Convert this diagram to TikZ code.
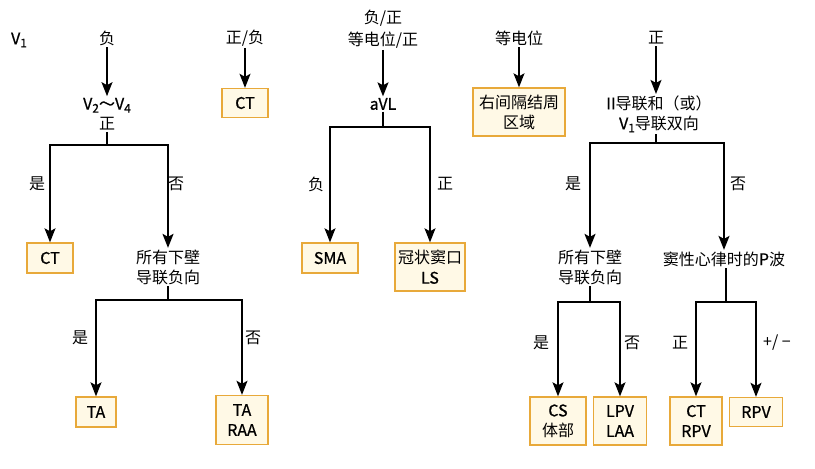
\documentclass[tikz,border=0pt]{standalone}
\usepackage{fontspec}
\setmainfont{Noto Sans CJK SC}
\newfontfamily\latf{Noto Sans CJK SC}[FakeBold=0.7]
\usetikzlibrary{arrows.meta}
\definecolor{boxc}{HTML}{E8A93A}
\definecolor{boxf}{HTML}{FFF9E6}
\newcommand\myfs{\fontsize{16}{20}\selectfont}
\newcommand\mysub[1]{\raisebox{-0.35ex}{\fontsize{12}{12}\selectfont #1}}
\newcommand\lt[1]{{\latf #1}}
\begin{document}
\begin{tikzpicture}[x=1pt,y=-1pt,
  txt/.style={inner sep=1.5pt, align=center, font=\myfs},
  box/.style={draw=boxc, fill=boxf, line width=1.4pt, inner sep=0pt, align=center, font=\myfs},
  arr/.style={line width=1.6pt, -{Stealth[length=14pt,width=11pt,inset=3pt]}},
  ln/.style={line width=1.6pt},
  lab/.style={inner sep=0pt, font=\myfs}]
\useasboundingbox (0,0) rectangle (815,469);

% column 1
\node[lab] (v1) at (19,40) {\lt{V\mysub{1}}};
\node[txt] (n1) at (107,38) {负};
\node[txt] (n2) at (107,114) {\lt{V\mysub{2}～V\mysub{4}}\\正};
\draw[arr] (n1.south) -- (n2.north -| n1.south);
\coordinate (j1) at (107,145);
\draw[ln] (n2.south) -- (j1);
\node[box, minimum width=46pt, minimum height=30pt] (ct1) at (50,258) {\lt{CT}};
\node[txt] (n3) at (168,267) {所有下壁\\导联负向};
\draw[arr] (j1) -| (ct1);
\draw[arr] (j1) -| (n3);
\node[lab] (l1) at (37,184) {是};
\node[lab] (l2) at (176,184) {否};
\coordinate (j2) at (168,300);
\draw[ln] (n3.south) -- (j2);
\node[box, minimum width=40pt, minimum height=30pt] (ta1) at (96,412) {\lt{TA}};
\node[box, minimum width=52pt, minimum height=49pt] (ta2) at (242,420) {\lt{TA}\\\lt{RAA}};
\draw[arr] (j2) -| (ta1);
\draw[arr] (j2) -| (ta2);
\node[lab] (l3) at (80,338) {是};
\node[lab] (l4) at (253,338) {否};

% column 2
\node[txt] (n4) at (245,38) {正/负};
\node[box, minimum width=46pt, minimum height=29pt] (ct2) at (245,103) {\lt{CT}};
\draw[arr] (n4.south) -- (ct2.north);

% column 3
\node[txt] (n5) at (383,29) {负/正\\[2pt]等电位/正};
\node[txt] (avl) at (383,104) {\lt{aVL}};
\draw[arr] (n5.south) -- (avl.north);
\coordinate (j3) at (383,127);
\draw[ln] (avl.south) -- (j3);
\node[box, minimum width=56pt, minimum height=30pt] (sma) at (330,258) {\lt{SMA}};
\node[box, minimum width=70pt, minimum height=48pt] (ls) at (430,267) {冠状窦口\\\lt{LS}};
\draw[arr] (j3) -| (sma);
\draw[arr] (j3) -| (ls);
\node[lab] (l5) at (316,184) {负};
\node[lab] (l6) at (445,184) {正};

% column 4
\node[txt] (n6) at (519,38) {等电位};
\node[box, minimum width=92pt, minimum height=48pt] (rs) at (519,112) {右间隔结周\\区域};
\draw[arr] (n6.south) -- (rs.north);

% column 5
\node[txt] (n7) at (656,38) {正};
\node[txt] (n8) at (659,114) {\lt{II}导联和（或）\\\lt{V\mysub{1}}导联双向};
\draw[arr] (n7.south) -- (n8.north -| n7.south);
\coordinate (j4) at (656,143);
\draw[ln] (n8.south -| j4) -- (j4);
\node[txt] (n9) at (590,267) {所有下壁\\导联负向};
\node[txt] (n10) at (724,259) {窦性心律时的\lt{P}波};
\draw[arr] (j4) -| (n9);
\draw[arr] (j4) -| (n10);
\node[lab] (l7) at (573,184) {是};
\node[lab] (l8) at (738,184) {否};
\coordinate (j5) at (588,302);
\coordinate (j6) at (726,302);
\draw[ln] (n9.south) -- (n9.south |- j5);
\draw[ln] (n10.south -| j6) -- (j6);
\node[box, minimum width=56pt, minimum height=48pt] (cs) at (558,421) {\lt{CS}\\体部};
\node[box, minimum width=53pt, minimum height=48pt] (lpv) at (620,421) {\lt{LPV}\\\lt{LAA}};
\node[box, minimum width=52pt, minimum height=48pt] (ctr) at (696,421) {\lt{CT}\\\lt{RPV}};
\node[box, minimum width=53pt, minimum height=29pt] (rpv) at (756,412) {\lt{RPV}};
\draw[arr] (j5) -| (cs);
\draw[arr] (j5) -| (lpv);
\draw[arr] (j6) -| (ctr);
\draw[arr] (j6) -| (rpv);
\node[lab] (l9) at (541,343) {是};
\node[lab] (l10) at (632,343) {否};
\node[lab] (l11) at (680,343) {正};
\node[lab] (l12) at (777,343) {+/ −};
\end{tikzpicture}
\end{document}
